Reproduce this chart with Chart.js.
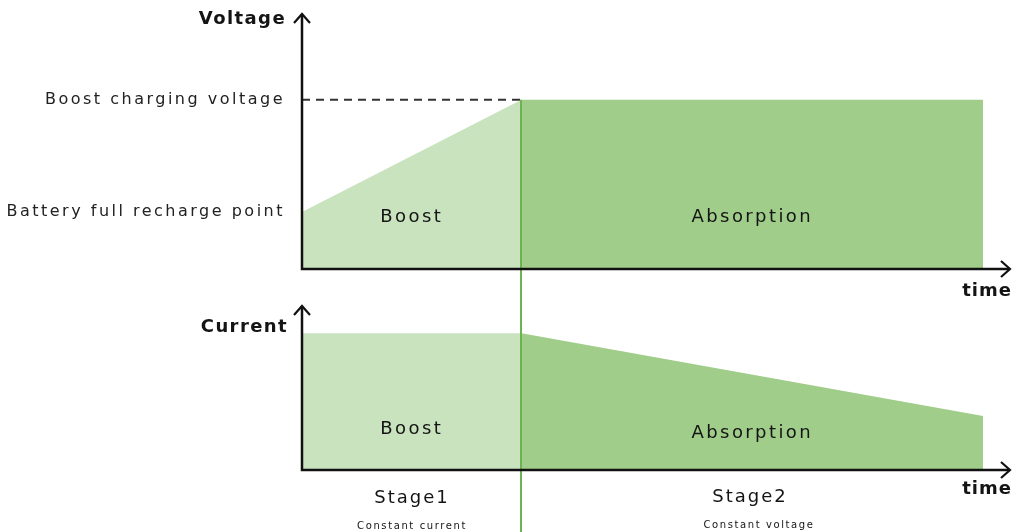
<!DOCTYPE html>
<html>
<head>
<meta charset="utf-8">
<script src="https://cdn.jsdelivr.net/npm/chart.js@4"></script>
<style>
    body { margin: 0; background: #fff; }
    #wrapTop { position: absolute; left: 0; top: 0; width: 1016px; height: 300px; }
    #wrapBottom { position: absolute; left: 0; top: 300px; width: 1016px; height: 232px; }
</style>
</head>
<body>
<div id="wrapTop"><canvas id="chartVoltage" width="1016" height="300"></canvas></div>
<div id="wrapBottom"><canvas id="chartCurrent" width="1016" height="232"></canvas></div>
<script>
// time points: start, end of boost stage, end of absorption stage
var stageTime = [0, 31, 96.2];
var voltage = [22.4, 66.4, 66.4];
var current = [83.4, 83.4, 33];
var voltageTickValues = [22.4, 66.4];
var voltageTickLabels = ['Battery full recharge point', 'Boost charging voltage'];
var stageNames = ['Stage1', 'Stage2'];
var stageModes = ['Constant current', 'Constant voltage'];
var phaseNames = ['Boost', 'Absorption'];

var lightGreen = '#c9e3bf';
var darkGreen = '#a0cd8a';
var lineGreen = '#6cb452';
var ink = '#141414';
var FONT = "'DejaVu Sans', sans-serif";

function pts(xs, ys) {
    var out = [];
    for (var i = 0; i < xs.length; i++) {
        out.push({ x: xs[i], y: ys[i] });
    }
    return out;
}

// axis lines with arrows + green stage divider + free text
var decoPlugin = {
    id: 'deco',
    beforeDraw: function (chart) {
        chart.ctx.letterSpacing = '2.5px';
    },
    afterDatasetsDraw: function (chart, args, opts) {
        var ctx = chart.ctx;
        var a = chart.chartArea;
        var sx = chart.scales.x;
        var sy = chart.scales.y;
        ctx.save();

        // stage divider
        var dx = Math.round(sx.getPixelForValue(stageTime[1]));
        ctx.strokeStyle = lineGreen;
        ctx.lineWidth = 2;
        ctx.beginPath();
        ctx.moveTo(dx, opts.dividerFrom != null ? sy.getPixelForValue(opts.dividerFrom) : 0);
        ctx.lineTo(dx, chart.height);
        ctx.stroke();

        // axes
        ctx.strokeStyle = '#111';
        ctx.lineWidth = 2.5;
        ctx.beginPath();
        ctx.moveTo(a.left, a.top);
        ctx.lineTo(a.left, a.bottom);
        ctx.lineTo(a.right, a.bottom);
        ctx.stroke();
        ctx.lineWidth = 2.2;
        ctx.beginPath();
        ctx.moveTo(a.left - 8, a.top + 9);
        ctx.lineTo(a.left, a.top);
        ctx.lineTo(a.left + 8, a.top + 9);
        ctx.moveTo(a.right - 9, a.bottom - 8);
        ctx.lineTo(a.right, a.bottom);
        ctx.lineTo(a.right - 9, a.bottom + 8);
        ctx.stroke();

        // notes
        ctx.textBaseline = 'middle';
        (opts.notes || []).forEach(function (n) {
            ctx.font = n.font;
            ctx.letterSpacing = n.ls + 'px';
            ctx.textAlign = n.align || 'center';
            ctx.fillStyle = ink;
            var x = n.xv != null ? sx.getPixelForValue(n.xv) : n.x;
            ctx.fillText(n.text, x, n.y);
        });
        ctx.restore();
    }
};

function voltage_chart() {
    var boost = pts(stageTime.slice(0, 2), voltage.slice(0, 2));
    var absorb = pts(stageTime.slice(1, 3), voltage.slice(1, 3));
    var dash = pts([stageTime[0], stageTime[1]], [voltage[1], voltage[1]]);
    var config = {
        type: 'line',
        data: {
            datasets: [
                { data: boost, fill: 'origin', backgroundColor: lightGreen, borderWidth: 0, pointRadius: 0 },
                { data: absorb, fill: 'origin', backgroundColor: darkGreen, borderWidth: 0, pointRadius: 0 },
                { data: dash, fill: false, borderColor: '#333', borderWidth: 2, borderDash: [8, 6], pointRadius: 0 }
            ]
        },
        options: {
            responsive: false,
            animation: false,
            layout: { padding: { top: 14, right: 6, left: 0, bottom: 0 } },
            plugins: {
                legend: { display: false },
                tooltip: { enabled: false },
                deco: {
                    dividerFrom: voltage[1],
                    notes: [
                        { text: 'Voltage', x: 286, y: 19, font: 'bold 18px ' + FONT, ls: 1.4, align: 'right' },
                        { text: phaseNames[0], xv: (stageTime[0] + stageTime[1]) / 2, y: 217, font: '18px ' + FONT, ls: 2.4 },
                        { text: phaseNames[1], xv: (stageTime[1] + stageTime[2]) / 2, y: 217, font: '18px ' + FONT, ls: 2.4 },
                        { text: 'time', x: 987, y: 291, font: 'bold 18px ' + FONT, ls: 1 }
                    ]
                }
            },
            scales: {
                x: {
                    type: 'linear', min: 0, max: 100,
                    grid: { display: false },
                    border: { display: false },
                    ticks: { display: false },
                    afterFit: function (scale) { scale.height = 31; scale.paddingLeft = 0; scale.paddingRight = 0; }
                },
                y: {
                    min: 0, max: 100,
                    grid: { display: false, drawTicks: false },
                    border: { display: false },
                    afterBuildTicks: function (axis) {
                        axis.ticks = voltageTickValues.map(function (v) { return { value: v }; });
                    },
                    ticks: {
                        padding: 17,
                        color: '#222',
                        font: { family: FONT, size: 16 },
                        callback: function (value, index) { return voltageTickLabels[index]; }
                    },
                    afterFit: function (scale) { scale.width = 302; scale.paddingTop = 0; scale.paddingBottom = 0; }
                }
            }
        },
        plugins: [decoPlugin]
    };
    new Chart(document.getElementById('chartVoltage'), config);
}

function current_chart() {
    var boost = pts(stageTime.slice(0, 2), current.slice(0, 2));
    var absorb = pts(stageTime.slice(1, 3), current.slice(1, 3));
    var config = {
        type: 'line',
        data: {
            datasets: [
                { data: boost, fill: 'origin', backgroundColor: lightGreen, borderWidth: 0, pointRadius: 0 },
                { data: absorb, fill: 'origin', backgroundColor: darkGreen, borderWidth: 0, pointRadius: 0 }
            ]
        },
        options: {
            responsive: false,
            animation: false,
            layout: { padding: { top: 6, right: 6, left: 0, bottom: 0 } },
            plugins: {
                legend: { display: false },
                tooltip: { enabled: false },
                deco: {
                    dividerFrom: null,
                    notes: [
                        { text: 'Current', x: 288, y: 27, font: 'bold 18px ' + FONT, ls: 1.4, align: 'right' },
                        { text: phaseNames[0], xv: (stageTime[0] + stageTime[1]) / 2, y: 129, font: '18px ' + FONT, ls: 2.4 },
                        { text: phaseNames[1], xv: (stageTime[1] + stageTime[2]) / 2, y: 133, font: '18px ' + FONT, ls: 2.4 },
                        { text: 'time', x: 987, y: 189, font: 'bold 18px ' + FONT, ls: 1 },
                        { text: stageNames[0], x: 412, y: 198, font: '18px ' + FONT, ls: 2 },
                        { text: stageModes[0], x: 412, y: 226, font: '10px ' + FONT, ls: 1.6 },
                        { text: stageNames[1], x: 750, y: 197, font: '18px ' + FONT, ls: 2 },
                        { text: stageModes[1], x: 759, y: 225, font: '10px ' + FONT, ls: 1.6 }
                    ]
                }
            },
            scales: {
                x: {
                    type: 'linear', min: 0, max: 100,
                    grid: { display: false },
                    border: { display: false },
                    ticks: { display: false },
                    afterFit: function (scale) { scale.height = 62; scale.paddingLeft = 0; scale.paddingRight = 0; }
                },
                y: {
                    min: 0, max: 100,
                    grid: { display: false, drawTicks: false },
                    border: { display: false },
                    ticks: { display: false },
                    afterFit: function (scale) { scale.width = 302; scale.paddingTop = 0; scale.paddingBottom = 0; }
                }
            }
        },
        plugins: [decoPlugin]
    };
    new Chart(document.getElementById('chartCurrent'), config);
}

voltage_chart();
current_chart();
</script>
</body>
</html>
